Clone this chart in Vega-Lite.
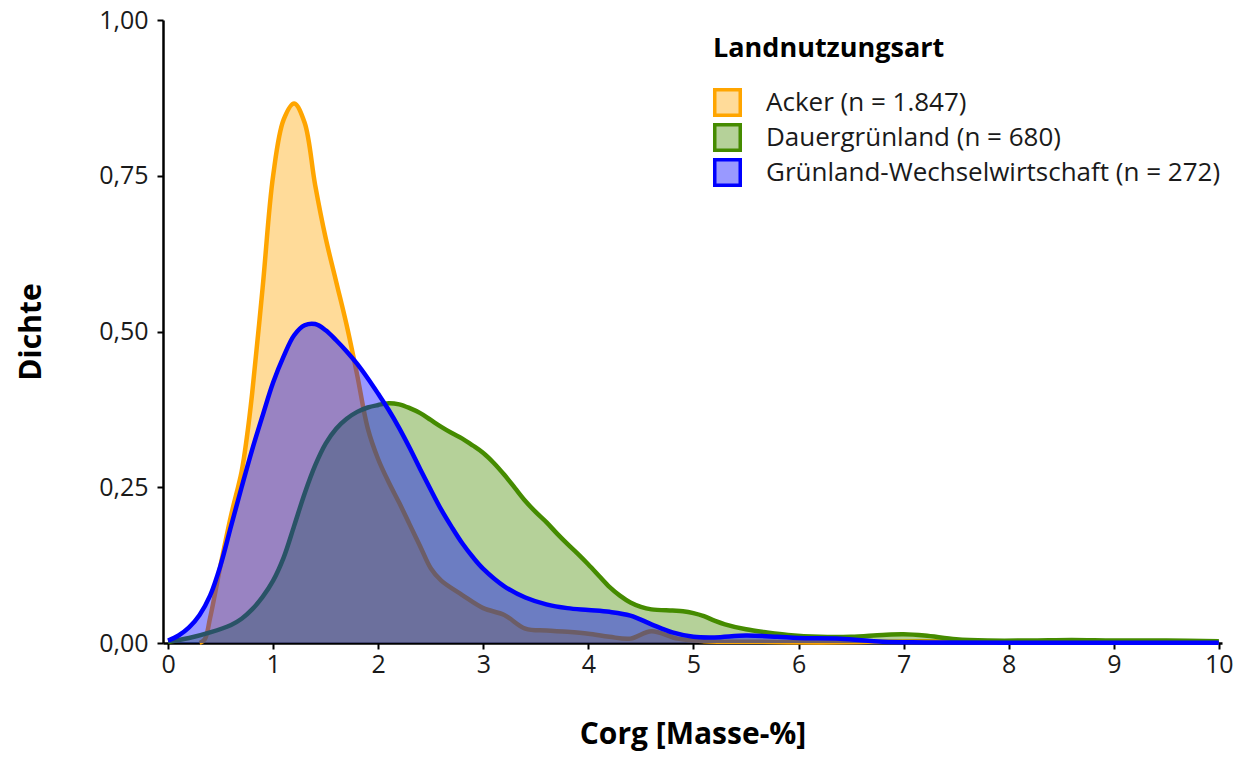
{
  "$schema": "https://vega.github.io/schema/vega-lite/v6.json",
  "autosize": {"type": "none"},
  "padding": {"left": 163, "top": 20, "right": 19, "bottom": 119},
  "width": 1059,
  "height": 623,
  "config": {
    "font": "Open Sans",
    "view": {"stroke": null},
    "axis": {
      "grid": false,
      "domainColor": "#000000",
      "domainWidth": 2.5,
      "tickColor": "#000000",
      "tickWidth": 2,
      "tickSize": 6,
      "labelColor": "#1a1a1a",
      "labelFontSize": 25,
      "labelFont": "Open Sans",
      "titleFont": "Open Sans",
      "titleColor": "#000000",
      "titleFontWeight": "bold"
    }
  },
  "datasets": {
    "dichte": [
      {"art": "Acker (n = 1.847)", "c": 0.3, "d": 0.0},
      {"art": "Acker (n = 1.847)", "c": 0.35, "d": 0.006},
      {"art": "Acker (n = 1.847)", "c": 0.4, "d": 0.04},
      {"art": "Acker (n = 1.847)", "c": 0.5, "d": 0.125},
      {"art": "Acker (n = 1.847)", "c": 0.6, "d": 0.205},
      {"art": "Acker (n = 1.847)", "c": 0.7, "d": 0.275},
      {"art": "Acker (n = 1.847)", "c": 0.75, "d": 0.33},
      {"art": "Acker (n = 1.847)", "c": 0.8, "d": 0.4},
      {"art": "Acker (n = 1.847)", "c": 0.9, "d": 0.57},
      {"art": "Acker (n = 1.847)", "c": 1.0, "d": 0.75},
      {"art": "Acker (n = 1.847)", "c": 1.1, "d": 0.84},
      {"art": "Acker (n = 1.847)", "c": 1.2, "d": 0.866},
      {"art": "Acker (n = 1.847)", "c": 1.3, "d": 0.835},
      {"art": "Acker (n = 1.847)", "c": 1.4, "d": 0.735},
      {"art": "Acker (n = 1.847)", "c": 1.5, "d": 0.65},
      {"art": "Acker (n = 1.847)", "c": 1.6, "d": 0.58},
      {"art": "Acker (n = 1.847)", "c": 1.7, "d": 0.51},
      {"art": "Acker (n = 1.847)", "c": 1.8, "d": 0.43},
      {"art": "Acker (n = 1.847)", "c": 1.9, "d": 0.345},
      {"art": "Acker (n = 1.847)", "c": 2.0, "d": 0.295},
      {"art": "Acker (n = 1.847)", "c": 2.1, "d": 0.258},
      {"art": "Acker (n = 1.847)", "c": 2.2, "d": 0.225},
      {"art": "Acker (n = 1.847)", "c": 2.3, "d": 0.19},
      {"art": "Acker (n = 1.847)", "c": 2.4, "d": 0.155},
      {"art": "Acker (n = 1.847)", "c": 2.5, "d": 0.12},
      {"art": "Acker (n = 1.847)", "c": 2.6, "d": 0.1},
      {"art": "Acker (n = 1.847)", "c": 2.8, "d": 0.077},
      {"art": "Acker (n = 1.847)", "c": 3.0, "d": 0.056},
      {"art": "Acker (n = 1.847)", "c": 3.2, "d": 0.045},
      {"art": "Acker (n = 1.847)", "c": 3.4, "d": 0.023},
      {"art": "Acker (n = 1.847)", "c": 3.6, "d": 0.02},
      {"art": "Acker (n = 1.847)", "c": 3.8, "d": 0.018},
      {"art": "Acker (n = 1.847)", "c": 4.0, "d": 0.015},
      {"art": "Acker (n = 1.847)", "c": 4.2, "d": 0.01},
      {"art": "Acker (n = 1.847)", "c": 4.4, "d": 0.007},
      {"art": "Acker (n = 1.847)", "c": 4.6, "d": 0.019},
      {"art": "Acker (n = 1.847)", "c": 4.85, "d": 0.007},
      {"art": "Acker (n = 1.847)", "c": 5.1, "d": 0.003},
      {"art": "Acker (n = 1.847)", "c": 5.6, "d": 0.002},
      {"art": "Acker (n = 1.847)", "c": 6.2, "d": 0.001},
      {"art": "Acker (n = 1.847)", "c": 7.2, "d": 0.003},
      {"art": "Acker (n = 1.847)", "c": 8.0, "d": 0.001},
      {"art": "Acker (n = 1.847)", "c": 10.0, "d": 0.0005},

      {"art": "Dauergrünland (n = 680)", "c": 0.0, "d": 0.002},
      {"art": "Dauergrünland (n = 680)", "c": 0.2, "d": 0.008},
      {"art": "Dauergrünland (n = 680)", "c": 0.4, "d": 0.017},
      {"art": "Dauergrünland (n = 680)", "c": 0.6, "d": 0.029},
      {"art": "Dauergrünland (n = 680)", "c": 0.7, "d": 0.039},
      {"art": "Dauergrünland (n = 680)", "c": 0.8, "d": 0.054},
      {"art": "Dauergrünland (n = 680)", "c": 0.9, "d": 0.074},
      {"art": "Dauergrünland (n = 680)", "c": 1.0, "d": 0.1},
      {"art": "Dauergrünland (n = 680)", "c": 1.1, "d": 0.137},
      {"art": "Dauergrünland (n = 680)", "c": 1.2, "d": 0.188},
      {"art": "Dauergrünland (n = 680)", "c": 1.3, "d": 0.24},
      {"art": "Dauergrünland (n = 680)", "c": 1.4, "d": 0.285},
      {"art": "Dauergrünland (n = 680)", "c": 1.5, "d": 0.32},
      {"art": "Dauergrünland (n = 680)", "c": 1.6, "d": 0.344},
      {"art": "Dauergrünland (n = 680)", "c": 1.7, "d": 0.36},
      {"art": "Dauergrünland (n = 680)", "c": 1.8, "d": 0.371},
      {"art": "Dauergrünland (n = 680)", "c": 1.9, "d": 0.378},
      {"art": "Dauergrünland (n = 680)", "c": 2.0, "d": 0.382},
      {"art": "Dauergrünland (n = 680)", "c": 2.1, "d": 0.385},
      {"art": "Dauergrünland (n = 680)", "c": 2.2, "d": 0.383},
      {"art": "Dauergrünland (n = 680)", "c": 2.3, "d": 0.377},
      {"art": "Dauergrünland (n = 680)", "c": 2.4, "d": 0.369},
      {"art": "Dauergrünland (n = 680)", "c": 2.5, "d": 0.358},
      {"art": "Dauergrünland (n = 680)", "c": 2.6, "d": 0.347},
      {"art": "Dauergrünland (n = 680)", "c": 2.7, "d": 0.337},
      {"art": "Dauergrünland (n = 680)", "c": 2.8, "d": 0.328},
      {"art": "Dauergrünland (n = 680)", "c": 2.9, "d": 0.317},
      {"art": "Dauergrünland (n = 680)", "c": 3.0, "d": 0.305},
      {"art": "Dauergrünland (n = 680)", "c": 3.1, "d": 0.289},
      {"art": "Dauergrünland (n = 680)", "c": 3.2, "d": 0.27},
      {"art": "Dauergrünland (n = 680)", "c": 3.3, "d": 0.249},
      {"art": "Dauergrünland (n = 680)", "c": 3.4, "d": 0.228},
      {"art": "Dauergrünland (n = 680)", "c": 3.5, "d": 0.21},
      {"art": "Dauergrünland (n = 680)", "c": 3.6, "d": 0.194},
      {"art": "Dauergrünland (n = 680)", "c": 3.7, "d": 0.176},
      {"art": "Dauergrünland (n = 680)", "c": 3.8, "d": 0.159},
      {"art": "Dauergrünland (n = 680)", "c": 3.9, "d": 0.143},
      {"art": "Dauergrünland (n = 680)", "c": 4.0, "d": 0.126},
      {"art": "Dauergrünland (n = 680)", "c": 4.1, "d": 0.108},
      {"art": "Dauergrünland (n = 680)", "c": 4.2, "d": 0.09},
      {"art": "Dauergrünland (n = 680)", "c": 4.3, "d": 0.076},
      {"art": "Dauergrünland (n = 680)", "c": 4.4, "d": 0.065},
      {"art": "Dauergrünland (n = 680)", "c": 4.5, "d": 0.058},
      {"art": "Dauergrünland (n = 680)", "c": 4.6, "d": 0.054},
      {"art": "Dauergrünland (n = 680)", "c": 4.8, "d": 0.052},
      {"art": "Dauergrünland (n = 680)", "c": 4.9, "d": 0.051},
      {"art": "Dauergrünland (n = 680)", "c": 5.0, "d": 0.048},
      {"art": "Dauergrünland (n = 680)", "c": 5.1, "d": 0.043},
      {"art": "Dauergrünland (n = 680)", "c": 5.2, "d": 0.036},
      {"art": "Dauergrünland (n = 680)", "c": 5.3, "d": 0.03},
      {"art": "Dauergrünland (n = 680)", "c": 5.5, "d": 0.022},
      {"art": "Dauergrünland (n = 680)", "c": 5.7, "d": 0.017},
      {"art": "Dauergrünland (n = 680)", "c": 5.9, "d": 0.013},
      {"art": "Dauergrünland (n = 680)", "c": 6.2, "d": 0.01},
      {"art": "Dauergrünland (n = 680)", "c": 6.5, "d": 0.01},
      {"art": "Dauergrünland (n = 680)", "c": 6.8, "d": 0.013},
      {"art": "Dauergrünland (n = 680)", "c": 7.0, "d": 0.014},
      {"art": "Dauergrünland (n = 680)", "c": 7.2, "d": 0.012},
      {"art": "Dauergrünland (n = 680)", "c": 7.5, "d": 0.006},
      {"art": "Dauergrünland (n = 680)", "c": 7.8, "d": 0.004},
      {"art": "Dauergrünland (n = 680)", "c": 8.2, "d": 0.004},
      {"art": "Dauergrünland (n = 680)", "c": 8.6, "d": 0.005},
      {"art": "Dauergrünland (n = 680)", "c": 9.0, "d": 0.004},
      {"art": "Dauergrünland (n = 680)", "c": 9.5, "d": 0.004},
      {"art": "Dauergrünland (n = 680)", "c": 10.0, "d": 0.003},

      {"art": "Grünland-Wechselwirtschaft (n = 272)", "c": 0.0, "d": 0.004},
      {"art": "Grünland-Wechselwirtschaft (n = 272)", "c": 0.1, "d": 0.012},
      {"art": "Grünland-Wechselwirtschaft (n = 272)", "c": 0.2, "d": 0.025},
      {"art": "Grünland-Wechselwirtschaft (n = 272)", "c": 0.3, "d": 0.045},
      {"art": "Grünland-Wechselwirtschaft (n = 272)", "c": 0.4, "d": 0.076},
      {"art": "Grünland-Wechselwirtschaft (n = 272)", "c": 0.5, "d": 0.125},
      {"art": "Grünland-Wechselwirtschaft (n = 272)", "c": 0.6, "d": 0.188},
      {"art": "Grünland-Wechselwirtschaft (n = 272)", "c": 0.7, "d": 0.25},
      {"art": "Grünland-Wechselwirtschaft (n = 272)", "c": 0.8, "d": 0.31},
      {"art": "Grünland-Wechselwirtschaft (n = 272)", "c": 0.9, "d": 0.365},
      {"art": "Grünland-Wechselwirtschaft (n = 272)", "c": 1.0, "d": 0.418},
      {"art": "Grünland-Wechselwirtschaft (n = 272)", "c": 1.1, "d": 0.46},
      {"art": "Grünland-Wechselwirtschaft (n = 272)", "c": 1.2, "d": 0.494},
      {"art": "Grünland-Wechselwirtschaft (n = 272)", "c": 1.3, "d": 0.51},
      {"art": "Grünland-Wechselwirtschaft (n = 272)", "c": 1.4, "d": 0.512},
      {"art": "Grünland-Wechselwirtschaft (n = 272)", "c": 1.5, "d": 0.502},
      {"art": "Grünland-Wechselwirtschaft (n = 272)", "c": 1.6, "d": 0.486},
      {"art": "Grünland-Wechselwirtschaft (n = 272)", "c": 1.7, "d": 0.468},
      {"art": "Grünland-Wechselwirtschaft (n = 272)", "c": 1.8, "d": 0.448},
      {"art": "Grünland-Wechselwirtschaft (n = 272)", "c": 1.9, "d": 0.425},
      {"art": "Grünland-Wechselwirtschaft (n = 272)", "c": 2.0, "d": 0.4},
      {"art": "Grünland-Wechselwirtschaft (n = 272)", "c": 2.1, "d": 0.374},
      {"art": "Grünland-Wechselwirtschaft (n = 272)", "c": 2.2, "d": 0.345},
      {"art": "Grünland-Wechselwirtschaft (n = 272)", "c": 2.3, "d": 0.313},
      {"art": "Grünland-Wechselwirtschaft (n = 272)", "c": 2.4, "d": 0.279},
      {"art": "Grünland-Wechselwirtschaft (n = 272)", "c": 2.5, "d": 0.246},
      {"art": "Grünland-Wechselwirtschaft (n = 272)", "c": 2.6, "d": 0.214},
      {"art": "Grünland-Wechselwirtschaft (n = 272)", "c": 2.7, "d": 0.186},
      {"art": "Grünland-Wechselwirtschaft (n = 272)", "c": 2.8, "d": 0.16},
      {"art": "Grünland-Wechselwirtschaft (n = 272)", "c": 2.9, "d": 0.138},
      {"art": "Grünland-Wechselwirtschaft (n = 272)", "c": 3.0, "d": 0.119},
      {"art": "Grünland-Wechselwirtschaft (n = 272)", "c": 3.2, "d": 0.091},
      {"art": "Grünland-Wechselwirtschaft (n = 272)", "c": 3.4, "d": 0.073},
      {"art": "Grünland-Wechselwirtschaft (n = 272)", "c": 3.6, "d": 0.062},
      {"art": "Grünland-Wechselwirtschaft (n = 272)", "c": 3.8, "d": 0.056},
      {"art": "Grünland-Wechselwirtschaft (n = 272)", "c": 4.0, "d": 0.053},
      {"art": "Grünland-Wechselwirtschaft (n = 272)", "c": 4.2, "d": 0.05},
      {"art": "Grünland-Wechselwirtschaft (n = 272)", "c": 4.4, "d": 0.044},
      {"art": "Grünland-Wechselwirtschaft (n = 272)", "c": 4.6, "d": 0.03},
      {"art": "Grünland-Wechselwirtschaft (n = 272)", "c": 4.8, "d": 0.017},
      {"art": "Grünland-Wechselwirtschaft (n = 272)", "c": 5.0, "d": 0.01},
      {"art": "Grünland-Wechselwirtschaft (n = 272)", "c": 5.2, "d": 0.009},
      {"art": "Grünland-Wechselwirtschaft (n = 272)", "c": 5.5, "d": 0.012},
      {"art": "Grünland-Wechselwirtschaft (n = 272)", "c": 5.8, "d": 0.01},
      {"art": "Grünland-Wechselwirtschaft (n = 272)", "c": 6.0, "d": 0.008},
      {"art": "Grünland-Wechselwirtschaft (n = 272)", "c": 6.4, "d": 0.007},
      {"art": "Grünland-Wechselwirtschaft (n = 272)", "c": 6.8, "d": 0.002},
      {"art": "Grünland-Wechselwirtschaft (n = 272)", "c": 7.2, "d": 0.001},
      {"art": "Grünland-Wechselwirtschaft (n = 272)", "c": 8.0, "d": 0.0005},
      {"art": "Grünland-Wechselwirtschaft (n = 272)", "c": 10.0, "d": 0.0005}
    ]
  },
  "data": {"name": "dichte"},
  "encoding": {
    "x": {
      "field": "c",
      "type": "quantitative",
      "scale": {"domain": [-0.048, 10.03], "nice": false, "zero": false},
      "axis": {
        "values": [0, 1, 2, 3, 4, 5, 6, 7, 8, 9, 10],
        "title": "Corg [Masse-%]",
        "titleFontSize": 30,
        "titlePadding": 42,
        "labelPadding": 3,
        "labelFlush": false
      }
    },
    "y": {
      "field": "d",
      "type": "quantitative",
      "scale": {"domain": [0, 1], "nice": false},
      "axis": {
        "values": [0, 0.25, 0.5, 0.75, 1],
        "labelExpr": "replace(format(datum.value, '.2f'), '.', ',')",
        "title": "Dichte",
        "titleFontSize": 30,
        "titlePadding": 52,
        "labelPadding": 9
      }
    },
    "color": {
      "field": "art",
      "type": "nominal",
      "scale": {
        "domain": ["Acker (n = 1.847)", "Dauergrünland (n = 680)", "Grünland-Wechselwirtschaft (n = 272)"],
        "range": ["#FFA500", "#458B00", "#0000FF"]
      },
      "legend": {
        "title": "Landnutzungsart",
        "orient": "none",
        "legendX": 550,
        "legendY": 16,
        "titleFontSize": 27,
        "titleFontWeight": "bold",
        "titleColor": "#000000",
        "titlePadding": 25,
        "titleLimit": 0,
        "labelFontSize": 26,
        "labelColor": "#1a1a1a",
        "labelLimit": 0,
        "labelOffset": 24,
        "symbolType": "square",
        "symbolSize": 650,
        "rowPadding": -17,
        "encode": {
          "symbols": {
            "update": {
              "stroke": {"scale": "color", "field": "value"},
              "strokeWidth": {"value": 3.5},
              "fillOpacity": {"value": 0.4},
              "opacity": {"value": 1}
            }
          }
        }
      }
    }
  },
  "layer": [
    {
      "transform": [{"filter": "datum.art === 'Acker (n = 1.847)'"}],
      "mark": {"type": "area", "interpolate": "catmull-rom", "fillOpacity": 0.4, "line": {"strokeWidth": 4.5, "interpolate": "catmull-rom"}}
    },
    {
      "transform": [{"filter": "datum.art === 'Dauergrünland (n = 680)'"}],
      "mark": {"type": "area", "interpolate": "catmull-rom", "fillOpacity": 0.4, "line": {"strokeWidth": 4.5, "interpolate": "catmull-rom"}}
    },
    {
      "transform": [{"filter": "datum.art === 'Grünland-Wechselwirtschaft (n = 272)'"}],
      "mark": {"type": "area", "interpolate": "catmull-rom", "fillOpacity": 0.4, "line": {"strokeWidth": 4.5, "interpolate": "catmull-rom"}}
    }
  ]
}
